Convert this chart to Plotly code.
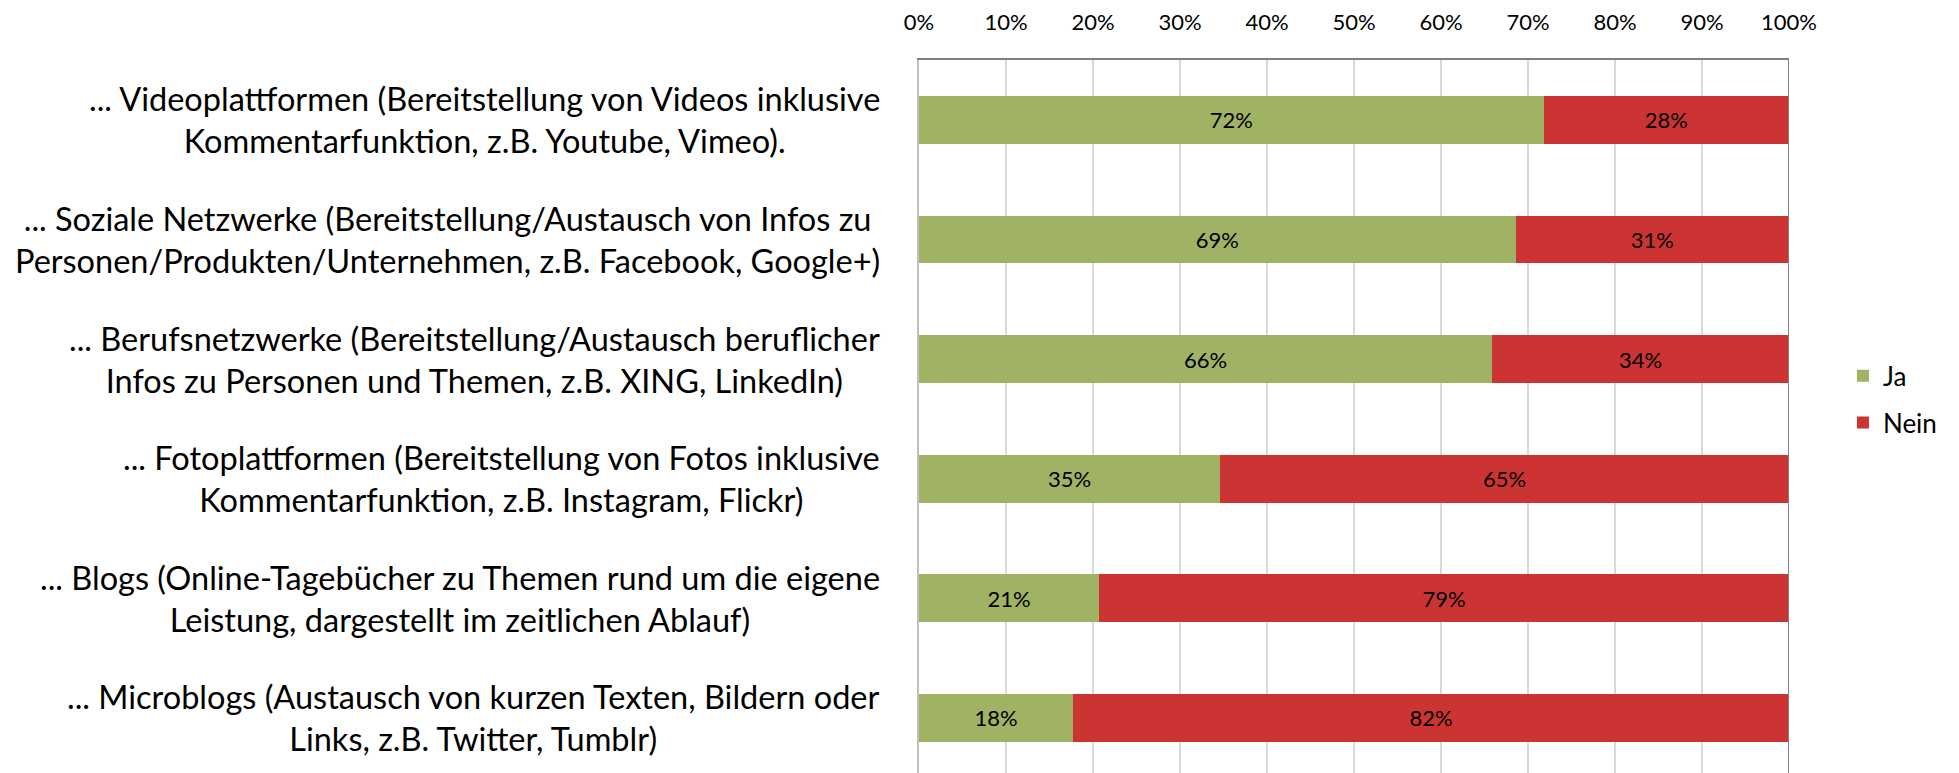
import plotly.graph_objects as go

categories = [
    "... Videoplattformen (Bereitstellung von Videos inklusive<br>Kommentarfunktion, z.B. Youtube, Vimeo).",
    "... Soziale Netzwerke (Bereitstellung/Austausch von Infos zu<br>Personen/Produkten/Unternehmen, z.B. Facebook, Google+)",
    "... Berufsnetzwerke (Bereitstellung/Austausch beruflicher<br>Infos zu Personen und Themen, z.B. XING, LinkedIn)",
    "... Fotoplattformen (Bereitstellung von Fotos inklusive<br>Kommentarfunktion, z.B. Instagram, Flickr)",
    "... Blogs (Online-Tagebücher zu Themen rund um die eigene<br>Leistung, dargestellt im zeitlichen Ablauf)",
    "... Microblogs (Austausch von kurzen Texten, Bildern oder<br>Links, z.B. Twitter, Tumblr)",
]
ja = [71.8, 68.6, 65.9, 34.6, 20.7, 17.7]
nein = [28.2, 31.4, 34.1, 65.4, 79.3, 82.3]
series_names = ["Ja", "Nein"]
tick_vals = [0, 10, 20, 30, 40, 50, 60, 70, 80, 90, 100]
tick_text = ["0%", "10%", "20%", "30%", "40%", "50%", "60%", "70%", "80%", "90%", "100%"]

GREEN = "#A0B263"
RED = "#CC3333"
FONT = "Lato"

W, H = 1959, 773
L, R, T, B = 919, 1959 - 1789, 60, 0
idx = list(range(len(categories)))

fig = go.Figure()
for name, vals, col in [(series_names[0], ja, GREEN), (series_names[1], nein, RED)]:
    fig.add_trace(go.Bar(
        y=idx, x=vals, name=name, orientation="h", legendgroup=name,
        marker=dict(color=col, line=dict(width=0)),
        texttemplate="%{x:.0f}%", textposition="inside", insidetextanchor="middle",
        textfont=dict(family=FONT, size=22, color="black"),
        hoverinfo="skip",
    ))

for i, c in enumerate(categories):
    fig.add_annotation(
        x=-0.043, xref="paper", y=i, yref="y", text=c, showarrow=False,
        xanchor="right", yanchor="middle", align="center",
        font=dict(family=FONT, size=32.5, color="black"),
    )

fig.add_shape(type="line", xref="x", yref="paper", x0=100, x1=100, y0=0, y1=1,
              line=dict(color="#7F7F7F", width=2), layer="above")

fig.update_layout(
    width=W, height=H, barmode="stack", bargap=0.6,
    margin=dict(l=L, r=R, t=T, b=B),
    plot_bgcolor="white", paper_bgcolor="white",
    font=dict(family=FONT, color="black"),
    showlegend=True,
    legend=dict(x=1.062, y=0.524, xanchor="left", yanchor="middle",
                font=dict(family=FONT, size=26, color="black"),
                tracegroupgap=10, traceorder="grouped", bgcolor="rgba(0,0,0,0)"),
    xaxis=dict(side="top", range=[0, 100], tickvals=tick_vals, ticktext=tick_text,
               showgrid=True, gridcolor="#D9D9D9", gridwidth=1.5,
               showline=True, linecolor="#7F7F7F", linewidth=2,
               zeroline=False, ticks="", ticklabelstandoff=19,
               tickfont=dict(family=FONT, size=22, color="black"), fixedrange=True),
    yaxis=dict(range=[5.46, -0.5], showticklabels=False, showgrid=False,
               zeroline=False, showline=True, linecolor="#BFBFBF", linewidth=2,
               fixedrange=True),
)

fig.write_html(
    "out.html",
    config={"displayModeBar": False},
    post_script="document.body.style.margin='0';document.body.style.overflow='hidden';",
)
